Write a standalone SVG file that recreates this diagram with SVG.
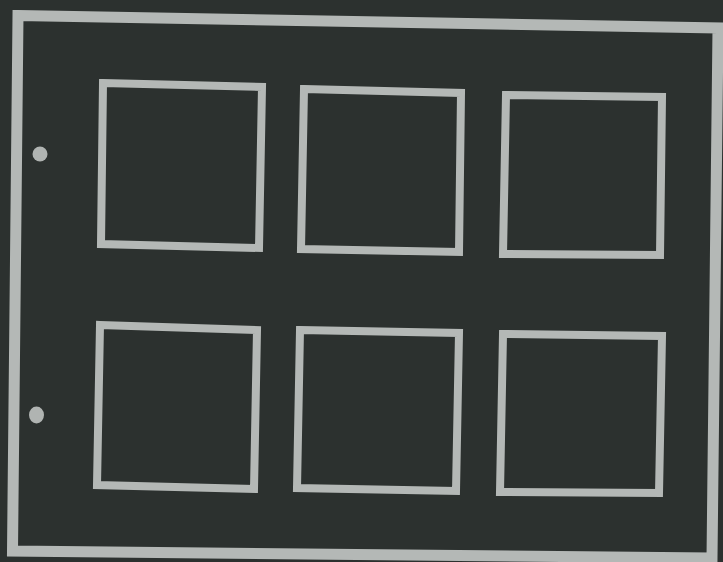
<svg xmlns="http://www.w3.org/2000/svg" width="723" height="562" viewBox="0 0 723 562">
  <style>
    .chalk { fill: none; stroke: #b4b8b6; stroke-linejoin: miter; stroke-linecap: square; }
    .frame { stroke-width: 11; }
    .box { stroke-width: 8; }
    .dot { fill: #b0b4b2; }
  </style>
  <rect x="0" y="0" width="723" height="562" fill="#2c312f"/>
  <g id="frame">
    <polygon class="chalk frame" points="18,15.5 718,28 712,558 12.5,551"/>
  </g>
  <g id="holes">
    <circle class="dot" cx="40" cy="154" r="7.5"/>
    <ellipse class="dot" cx="36.5" cy="415" rx="7.5" ry="8.5"/>
  </g>
  <g id="box1"><polygon class="chalk box" points="103,83 262,87 259,248 101,244"/></g>
  <g id="box2"><polygon class="chalk box" points="304,89 461,93 459,252 301,249"/></g>
  <g id="box3"><polygon class="chalk box" points="506,95 662,97 660,255 503,254"/></g>
  <g id="box4"><polygon class="chalk box" points="100,325 257,330 254,489 97,485"/></g>
  <g id="box5"><polygon class="chalk box" points="300,330 459,333 456,491 297,488"/></g>
  <g id="box6"><polygon class="chalk box" points="503,334 662,336 659,493 500,492"/></g>
  <g id="connectors"/>
</svg>
